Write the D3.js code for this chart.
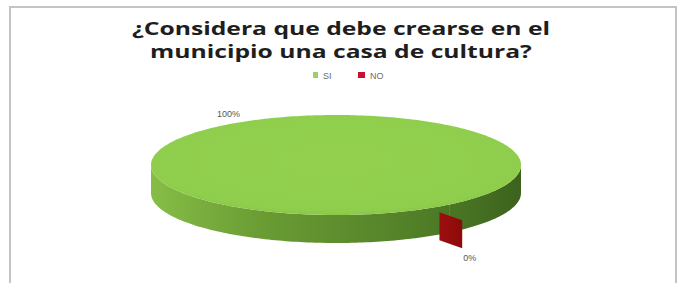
<!DOCTYPE html>
<html>
<head>
<meta charset="utf-8">
<script src="https://cdn.jsdelivr.net/npm/d3@7"></script>
<style>
  html, body { margin: 0; padding: 0; background: #fff; }
  svg { display: block; }
</style>
</head>
<body>
<div id="chart"></div>
<script>
// Data
const titleLines = ["¿Considera que debe crearse en el", "municipio una casa de cultura?"];
const categories = ["SI", "NO"];
const values = [100, 0];
const percentLabels = ["100%", "0%"];

const W = 683, H = 283;
const cx = 336, cy = 165, rx = 185, ry = 50, depth = 28;
const firstSliceAngle = 142; // degrees, like Excel's "angle of first slice"
const explodePx = 20;

const colors = d3.scaleOrdinal().domain(categories).range(["#92d050", "#8c0a0a"]);
const legendColors = d3.scaleOrdinal().domain(categories).range(["#9ccf6a", "#c8102e"]);

const svg = d3.select("#chart").append("svg")
    .attr("width", W)
    .attr("height", H);

// chart frame
svg.append("rect")
    .attr("x", 10).attr("y", 7)
    .attr("width", 666).attr("height", 300)
    .attr("fill", "#fff")
    .attr("stroke", "#c4c4c4")
    .attr("stroke-width", 2);

// -------------------------------------------------------------------------
// Title (picture is slightly stretched sideways, so stretch glyphs to fit)
// -------------------------------------------------------------------------
const title = svg.append("g");
const titleText = title.selectAll("text")
    .data(titleLines)
    .enter()
    .append("text")
    .attr("x", 341)
    .attr("y", (d, i) => 35 + i * 23)
    .attr("text-anchor", "middle")
    .style("font-family", "'Open Sans', sans-serif")
    .style("font-weight", "700")
    .style("font-size", "18px")
    .style("fill", "#1e1e1e")
    .text(d => d);

const widths = titleText.nodes().map(n => n.getComputedTextLength());
const stretch = 418 / widths[0];
titleText
    .attr("textLength", (d, i) => widths[i] * stretch)
    .attr("lengthAdjust", "spacingAndGlyphs");

// -------------------------------------------------------------------------
// Legend
// -------------------------------------------------------------------------
const legendX = [313, 358];
const legend = svg.selectAll(".legend")
    .data(categories)
    .enter()
    .append("g")
    .attr("class", "legend")
    .attr("transform", (d, i) => `translate(${legendX[i]},75)`);

legend.append("rect")
    .attr("x", 0).attr("y", -3)
    .attr("width", (d, i) => i === 0 ? 5 : 7)
    .attr("height", 6)
    .attr("fill", d => legendColors(d));

legend.append("text")
    .attr("x", (d, i) => i === 0 ? 10 : 12)
    .attr("y", 3.5)
    .style("font-family", "'Liberation Sans', sans-serif")
    .style("font-size", "9px")
    .style("fill", "#6b6b6b")
    .text(d => d);

// -------------------------------------------------------------------------
// 3D pie
// -------------------------------------------------------------------------
const rad = firstSliceAngle * Math.PI / 180;
const pie = d3.pie().sort(null).startAngle(rad).endAngle(rad + 2 * Math.PI);
const arcs = pie(values);

const proj = (a, r = 1, off = [0, 0]) => [cx + rx * r * Math.sin(a) + off[0], cy - ry * r * Math.cos(a) + off[1]];

const defs = svg.append("defs");
const sideGrad = defs.append("linearGradient")
    .attr("id", "sideGrad")
    .attr("gradientUnits", "userSpaceOnUse")
    .attr("x1", cx - rx).attr("x2", cx + rx).attr("y1", 0).attr("y2", 0);
sideGrad.append("stop").attr("offset", "0%").attr("stop-color", "#86bd46");
sideGrad.append("stop").attr("offset", "30%").attr("stop-color", "#6a9c34");
sideGrad.append("stop").attr("offset", "75%").attr("stop-color", "#4f7d27");
sideGrad.append("stop").attr("offset", "100%").attr("stop-color", "#3c631c");

const topGrad = defs.append("radialGradient")
    .attr("id", "topGrad")
    .attr("cx", "50%").attr("cy", "45%").attr("r", "60%");
topGrad.append("stop").attr("offset", "0%").attr("stop-color", "#93d14f");
topGrad.append("stop").attr("offset", "85%").attr("stop-color", "#8fcd4c");
topGrad.append("stop").attr("offset", "100%").attr("stop-color", "#86c244");

const redGrad = defs.append("linearGradient")
    .attr("id", "redGrad")
    .attr("x1", "0%").attr("x2", "100%").attr("y1", "0%").attr("y2", "0%");
redGrad.append("stop").attr("offset", "0%").attr("stop-color", "#9c0f0f");
redGrad.append("stop").attr("offset", "100%").attr("stop-color", colors("NO"));

function sampleAngles(a0, a1) {
    const n = Math.max(2, Math.ceil(Math.abs(a1 - a0) / 0.02));
    return d3.range(n + 1).map(i => a0 + (a1 - a0) * i / n);
}

// parts of [a0, a1] that face the viewer (front half of the rim)
function frontRanges(a0, a1) {
    const out = [];
    for (let k = -1; k <= 2; k++) {
        const s = Math.max(a0, Math.PI / 2 + 2 * Math.PI * k);
        const e = Math.min(a1, 3 * Math.PI / 2 + 2 * Math.PI * k);
        if (e > s) out.push([s, e]);
    }
    return out;
}

const pieG = svg.append("g");

arcs.forEach(d => {
    const span = d.endAngle - d.startAngle;
    if (span <= 0) return;
    // side walls
    frontRanges(d.startAngle, d.endAngle).forEach(([s, e]) => {
        const pts = sampleAngles(s, e);
        const topPts = pts.map(a => proj(a));
        const botPts = pts.slice().reverse().map(a => proj(a, 1, [0, depth]));
        pieG.append("path")
            .attr("d", d3.line()(topPts.concat(botPts)) + "Z")
            .attr("fill", "url(#sideGrad)");
    });
    // top face
    const rim = sampleAngles(d.startAngle, d.endAngle).map(a => proj(a));
    const facePts = span >= 2 * Math.PI - 1e-6 ? rim : [proj(0, 0)].concat(rim);
    pieG.append("path")
        .attr("d", d3.line()(facePts) + "Z")
        .attr("fill", "url(#topGrad)");
});

// the empty slice: only its exploded cut face shows
arcs.forEach(d => {
    if (d.endAngle - d.startAngle > 0) return;
    const a = d.startAngle;
    const off = [explodePx * Math.sin(a), -explodePx * Math.cos(a)];
    const p0 = proj(a, 0.8, off), p1 = proj(a, 1, off);
    const wall = [p0, p1, [p1[0], p1[1] + depth], [p0[0], p0[1] + depth]];
    pieG.append("path")
        .attr("d", d3.line()(wall) + "Z")
        .attr("fill", "url(#redGrad)");
});

// -------------------------------------------------------------------------
// Percent labels
// -------------------------------------------------------------------------
arcs.forEach((d, i) => {
    const mid = (d.startAngle + d.endAngle) / 2;
    const front = Math.cos(mid) < 0;
    let pos;
    if (front) {
        const off = [explodePx * Math.sin(mid), -explodePx * Math.cos(mid)];
        const p = proj(mid, 1, off);
        pos = [p[0] + 1, p[1] + depth + 13];
    } else {
        const p = proj(mid);
        pos = [p[0] - 5, p[1] - 9];
    }
    svg.append("text")
        .attr("x", pos[0])
        .attr("y", pos[1])
        .style("font-family", "'Liberation Sans', sans-serif")
        .style("font-size", "9px")
        .style("fill", "#555")
        .text(percentLabels[i]);
});
</script>
</body>
</html>
